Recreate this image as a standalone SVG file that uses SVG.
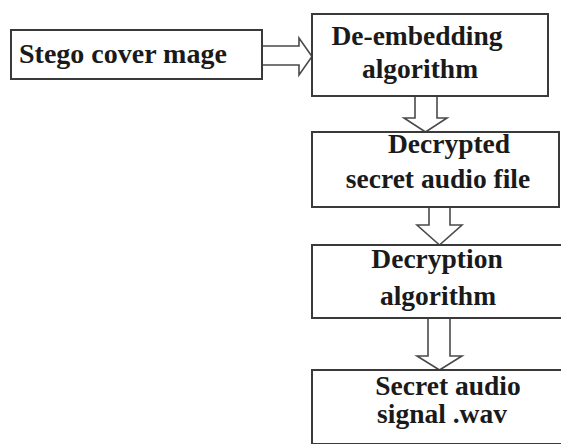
<svg xmlns="http://www.w3.org/2000/svg" width="561" height="444" viewBox="0 0 561 444">
<style>
.box{fill:#fff;stroke:#3a3a3a;stroke-width:2}
.arr{fill:none;stroke:#4a4a4a;stroke-width:1.6;stroke-linejoin:miter}
.t{font-family:'Liberation Serif','Times New Roman','DejaVu Serif','Noto Serif',serif;font-weight:700;font-size:27.5px;fill:#1a1a1a}
.c{text-anchor:middle}
</style>
<rect width="561" height="444" fill="#fff"/>
<g id="connectors">
<path class="arr" d="M262,46 H299 V38 L312,56.5 L299,75 V65 H262"/>
<path class="arr" d="M415,96 V118 H404 L425.5,132 L447,118 H437 V96"/>
<path class="arr" d="M429,207 V225 H417 L439.5,245 L462,225 H450 V207"/>
<path class="arr" d="M428,318 V356 H417 L439.5,370 L462,356 H450 V318"/>
</g>
<g id="n1">
<rect class="box" x="11" y="30" width="251" height="49"/>
<text class="t" x="19" y="63" style="font-size:28px">Stego cover mage</text>
</g>
<g id="n2">
<rect class="box" x="312" y="14" width="236" height="82"/>
<text class="t c" x="417" y="45">De-embedding</text>
<text class="t c" x="420" y="78">algorithm</text>
</g>
<g id="n3">
<rect class="box" x="312" y="132" width="247" height="75"/>
<text class="t c" x="449" y="153">Decrypted</text>
<text class="t c" x="438" y="188">secret audio file</text>
</g>
<g id="n4">
<rect class="box" x="312" y="245" width="250" height="73"/>
<text class="t c" x="437" y="268">Decryption</text>
<text class="t c" x="438" y="305">algorithm</text>
</g>
<g id="n5">
<rect class="box" x="312" y="370" width="250" height="74"/>
<text class="t c" x="448" y="395">Secret audio</text>
<text class="t c" x="442" y="423">signal .wav</text>
</g>
</svg>
